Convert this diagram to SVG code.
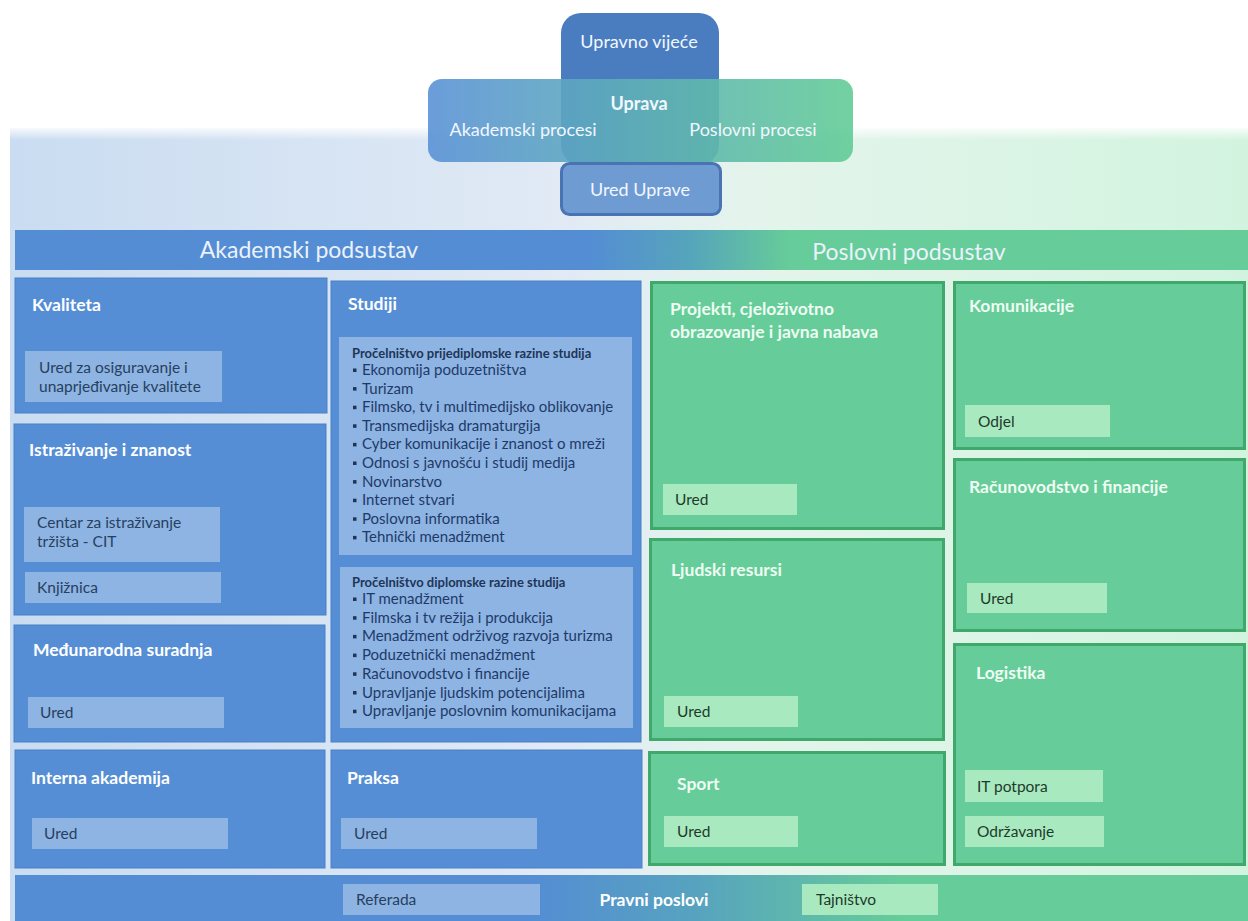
<svg xmlns="http://www.w3.org/2000/svg" width="1248" height="921" viewBox="0 0 1248 921">
<defs>
<linearGradient id="bgGrad" x1="0" y1="0" x2="1248" y2="0" gradientUnits="userSpaceOnUse">
<stop offset="0" stop-color="#c9dcf1"/>
<stop offset="0.45" stop-color="#e1eaf5"/>
<stop offset="0.6" stop-color="#e4f4ec"/>
<stop offset="1" stop-color="#d2f4df"/>
</linearGradient>
<linearGradient id="topFade" x1="0" y1="126" x2="0" y2="140" gradientUnits="userSpaceOnUse">
<stop offset="0" stop-color="#ffffff" stop-opacity="1"/>
<stop offset="1" stop-color="#ffffff" stop-opacity="0"/>
</linearGradient>
<linearGradient id="barGrad" x1="590" y1="0" x2="790" y2="0" gradientUnits="userSpaceOnUse">
<stop offset="0" stop-color="#548dd4"/>
<stop offset="0.5" stop-color="#56a5bb"/>
<stop offset="1" stop-color="#66cc99"/>
</linearGradient>
<linearGradient id="botGrad" x1="530" y1="0" x2="900" y2="0" gradientUnits="userSpaceOnUse">
<stop offset="0" stop-color="#548dd4"/>
<stop offset="0.45" stop-color="#57a3bf"/>
<stop offset="1" stop-color="#66cc99"/>
</linearGradient>
<linearGradient id="upravaGrad" x1="428" y1="0" x2="853" y2="0" gradientUnits="userSpaceOnUse">
<stop offset="0" stop-color="#5a92d6"/>
<stop offset="0.5" stop-color="#5fb0b6"/>
<stop offset="1" stop-color="#62cc96"/>
</linearGradient>
<style>
.blue{fill:#558ed5;stroke:#4a80c6;stroke-width:1}
.green{fill:#66cc99;stroke:#3fa96b;stroke-width:3}
.binner{fill:#8db4e2}
.ginner{fill:#a9e9bf}
.title{font-family:Lato,"Liberation Sans",sans-serif;font-weight:bold;font-size:17.5px;fill:#ffffff}
.gtitle{font-family:Lato,"Liberation Sans",sans-serif;font-weight:bold;font-size:17.5px;fill:#eefcf3}
.btxt{font-family:Lato,"Liberation Sans",sans-serif;font-size:15.5px;fill:#27405f}
.gtxt{font-family:Lato,"Liberation Sans",sans-serif;font-size:15.5px;fill:#1d3a2b}
.head{font-family:Lato,"Liberation Sans",sans-serif;font-size:23px;fill:#eaf2fc}
.lhead{font-family:Lato,"Liberation Sans",sans-serif;font-weight:bold;font-size:13px;fill:#1f3558}
.li{font-family:Lato,"Liberation Sans",sans-serif;font-size:15px;fill:#1f3a6a}
.bul{fill:#1f3558}
.top{font-family:Lato,"Liberation Sans",sans-serif;font-size:18px;fill:#f2f7ff}
</style>
</defs>

<rect x="0" y="0" width="1248" height="921" fill="#ffffff"/>
<rect x="10" y="128" width="1238" height="793" fill="url(#bgGrad)"/>
<rect x="10" y="126" width="1238" height="14" fill="url(#topFade)"/>

<g id="upravno-vijece">
<rect x="561" y="13" width="158" height="152" rx="20" fill="#4a7dc0"/>
<text class="top" x="639" y="48" text-anchor="middle">Upravno vijeće</text>
</g>

<g id="uprava">
<rect x="428" y="79" width="425" height="83" rx="14" fill="url(#upravaGrad)" opacity="0.9"/>
<text class="top" x="639" y="110" text-anchor="middle" font-weight="bold" font-size="19" fill="#ffffff">Uprava</text>
<text class="top" x="523" y="136" text-anchor="middle">Akademski procesi</text>
<text class="top" x="753" y="136" text-anchor="middle">Poslovni procesi</text>
</g>

<g id="ured-uprave">
<rect x="561.5" y="163.5" width="159" height="51" rx="8" fill="#6f9bd3" stroke="#4a73b3" stroke-width="3"/>
<text class="top" x="640" y="196" text-anchor="middle" font-size="16">Ured Uprave</text>
</g>

<g id="header-bar">
<rect x="15" y="230" width="1233" height="40" fill="url(#barGrad)"/>
<text class="head" x="309" y="258" text-anchor="middle">Akademski podsustav</text>
<text class="head" x="909" y="260" text-anchor="middle">Poslovni podsustav</text>
</g>

<g id="kvaliteta">
<rect class="blue" x="15" y="278" width="312" height="135"/>
<text class="title" x="32" y="311">Kvaliteta</text>
<rect class="binner" x="25" y="351" width="197" height="51"/>
<text class="btxt" x="39" y="373">Ured za osiguravanje i</text>
<text class="btxt" x="39" y="392">unaprjeđivanje kvalitete</text>
</g>

<g id="istrazivanje">
<rect class="blue" x="14" y="424" width="312" height="191"/>
<text class="title" x="29" y="456">Istraživanje i znanost</text>
<rect class="binner" x="24" y="507" width="196" height="55"/>
<text class="btxt" x="37" y="528">Centar za istraživanje</text>
<text class="btxt" x="37" y="547">tržišta - CIT</text>
<rect class="binner" x="25" y="572" width="196" height="31"/>
<text class="btxt" x="37" y="593">Knjižnica</text>
</g>

<g id="medunarodna">
<rect class="blue" x="14" y="625" width="311" height="117"/>
<text class="title" x="33" y="656">Međunarodna suradnja</text>
<rect class="binner" x="28" y="697" width="196" height="31"/>
<text class="btxt" x="40" y="718">Ured</text>
</g>

<g id="interna-akademija">
<rect class="blue" x="15" y="750" width="310" height="118"/>
<text class="title" x="31" y="784">Interna akademija</text>
<rect class="binner" x="32" y="818" width="196" height="31"/>
<text class="btxt" x="44" y="839">Ured</text>
</g>

<g id="studiji">
<rect class="blue" x="331" y="281" width="310" height="461"/>
<text class="title" x="348" y="310">Studiji</text>
<rect class="binner" x="339" y="337" width="293" height="218"/>
<text class="lhead" x="352" y="358">Pročelništvo prijediplomske razine studija</text>
<g class="bul">
<rect x="353" y="368.5" width="3.5" height="3.5"/>
<rect x="353" y="387.1" width="3.5" height="3.5"/>
<rect x="353" y="405.7" width="3.5" height="3.5"/>
<rect x="353" y="424.3" width="3.5" height="3.5"/>
<rect x="353" y="442.9" width="3.5" height="3.5"/>
<rect x="353" y="461.5" width="3.5" height="3.5"/>
<rect x="353" y="480.1" width="3.5" height="3.5"/>
<rect x="353" y="498.7" width="3.5" height="3.5"/>
<rect x="353" y="517.3" width="3.5" height="3.5"/>
<rect x="353" y="535.9" width="3.5" height="3.5"/>
</g>
<text class="li">
<tspan x="362" y="375">Ekonomija poduzetništva</tspan>
<tspan x="362" y="393.6">Turizam</tspan>
<tspan x="362" y="412.2">Filmsko, tv i multimedijsko oblikovanje</tspan>
<tspan x="362" y="430.8">Transmedijska dramaturgija</tspan>
<tspan x="362" y="449.4">Cyber komunikacije i znanost o mreži</tspan>
<tspan x="362" y="468">Odnosi s javnošću i studij medija</tspan>
<tspan x="362" y="486.6">Novinarstvo</tspan>
<tspan x="362" y="505.2">Internet stvari</tspan>
<tspan x="362" y="523.8">Poslovna informatika</tspan>
<tspan x="362" y="542.4">Tehnički menadžment</tspan>
</text>
<rect class="binner" x="340" y="567" width="293" height="161"/>
<text class="lhead" x="352" y="587">Pročelništvo diplomske razine studija</text>
<g class="bul">
<rect x="353" y="597.5" width="3.5" height="3.5"/>
<rect x="353" y="616.2" width="3.5" height="3.5"/>
<rect x="353" y="634.9" width="3.5" height="3.5"/>
<rect x="353" y="653.6" width="3.5" height="3.5"/>
<rect x="353" y="672.3" width="3.5" height="3.5"/>
<rect x="353" y="691" width="3.5" height="3.5"/>
<rect x="353" y="709.7" width="3.5" height="3.5"/>
</g>
<text class="li">
<tspan x="362" y="604">IT menadžment</tspan>
<tspan x="362" y="622.7">Filmska i tv režija i produkcija</tspan>
<tspan x="362" y="641.4">Menadžment održivog razvoja turizma</tspan>
<tspan x="362" y="660.1">Poduzetnički menadžment</tspan>
<tspan x="362" y="678.8">Računovodstvo i financije</tspan>
<tspan x="362" y="697.5">Upravljanje ljudskim potencijalima</tspan>
<tspan x="362" y="716.2">Upravljanje poslovnim komunikacijama</tspan>
</text>
</g>

<g id="praksa">
<rect class="blue" x="331" y="750" width="311" height="118"/>
<text class="title" x="347" y="784">Praksa</text>
<rect class="binner" x="341" y="818" width="196" height="31"/>
<text class="btxt" x="354" y="839">Ured</text>
</g>

<g id="projekti">
<rect class="green" x="651.5" y="282.5" width="292" height="246"/>
<text class="gtitle" x="670" y="315">Projekti, cjeloživotno</text>
<text class="gtitle" x="670" y="338">obrazovanje i javna nabava</text>
<rect class="ginner" x="663" y="484" width="134" height="31"/>
<text class="gtxt" x="675" y="505">Ured</text>
</g>

<g id="ljudski-resursi">
<rect class="green" x="650.5" y="539.5" width="293" height="200"/>
<text class="gtitle" x="671" y="576">Ljudski resursi</text>
<rect class="ginner" x="664" y="696" width="134" height="31"/>
<text class="gtxt" x="677" y="717">Ured</text>
</g>

<g id="sport">
<rect class="green" x="649.5" y="752.5" width="295" height="112"/>
<text class="gtitle" x="677" y="790">Sport</text>
<rect class="ginner" x="664" y="816" width="134" height="31"/>
<text class="gtxt" x="677" y="837">Ured</text>
</g>

<g id="komunikacije">
<rect class="green" x="954.5" y="282.5" width="290" height="166"/>
<text class="gtitle" x="969" y="312">Komunikacije</text>
<rect class="ginner" x="965" y="405" width="145" height="32"/>
<text class="gtxt" x="978" y="427">Odjel</text>
</g>

<g id="racunovodstvo">
<rect class="green" x="954.5" y="459.5" width="290" height="171"/>
<text class="gtitle" x="969" y="493">Računovodstvo i financije</text>
<rect class="ginner" x="967" y="583" width="140" height="30"/>
<text class="gtxt" x="980" y="604">Ured</text>
</g>

<g id="logistika">
<rect class="green" x="954.5" y="644.5" width="290" height="220"/>
<text class="gtitle" x="976" y="679">Logistika</text>
<rect class="ginner" x="965" y="770" width="138" height="32"/>
<text class="gtxt" x="977" y="792">IT potpora</text>
<rect class="ginner" x="965" y="816" width="139" height="31"/>
<text class="gtxt" x="977" y="837">Održavanje</text>
</g>

<g id="pravni-poslovi">
<rect x="15" y="875" width="1233" height="46" fill="url(#botGrad)"/>
<rect class="binner" x="343" y="884" width="197" height="31"/>
<text class="btxt" x="356" y="905">Referada</text>
<text class="title" x="654" y="906" text-anchor="middle">Pravni poslovi</text>
<rect class="ginner" x="802" y="884" width="136" height="31"/>
<text class="gtxt" x="816" y="905">Tajništvo</text>
</g>

<g id="connectors"></g>
</svg>
